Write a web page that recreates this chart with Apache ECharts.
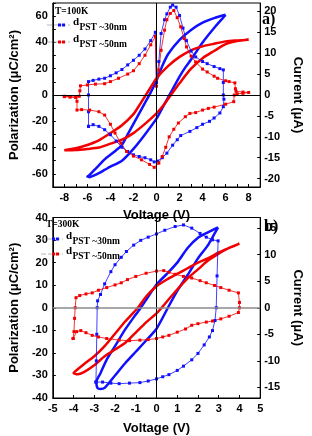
<!DOCTYPE html>
<html><head><meta charset="utf-8">
<script src="https://cdn.jsdelivr.net/npm/echarts@6/dist/echarts.min.js"></script>
<style>html,body{margin:0;padding:0;background:#fff}#c{width:312px;height:436px}</style>
</head><body><div id="c"></div>
<script>
// ---------- Panel a) T=100K ----------
const X_LABELS_A = [-8,-6,-4,-2,0,2,4,6,8];
const X_TICKS_A = [-9,-8,-7,-6,-5,-4,-3,-2,-1,0,1,2,3,4,5,6,7,8,9];
const P_LABELS_A = [-60,-40,-20,0,20,40,60];
const I_LABELS_A = [-20,-15,-10,-5,0,5,10,15,20];

// P loop, 30 nm (upper branch then lower branch)
const V_P30_A = [6,5,4,3,2,1,0.5,0,-0.5,-1,-1.5,-2,-2.5,-3,-3.5,-4,-4.5,-5,-5.5,-5.9,-6,
                 -5.8,-5.5,-5,-4.5,-4,-3,-2,-1,0,0.5,1,1.5,2,2.5,3,4,5,5.8,6];
const P30_A   = [61,58.5,55,49.5,42,31,22,11,2,-6,-14,-22,-30,-38,-42,-45.5,-49,-53.5,-58,-61.5,-62,
                 -62.5,-61.5,-59.5,-57,-54.5,-50,-41,-30,-18,-10,-2,6,14,21,27,40,51,59,61];
// P loop, 50 nm
const V_P50_A = [8,7,6,5,4,3,2,1,0,-0.5,-1,-1.5,-2,-3,-4,-5,-6,-7,-8,
                 -7,-6,-5,-4,-3,-2,-1,0,0.5,1,1.5,2,3,4,5,6,7,8];
const P50_A   = [42,41.5,40.8,39,37,34,29,22,12.8,6,-1,-8,-14.5,-23,-29,-34.5,-38,-40.5,-42,
                 -41.8,-41,-40,-37,-34,-29,-22,-14,-9,-3,3,9,20,28,33.5,38.7,41,42];
// Current, 30 nm
const V_I30_A = [-5.9,-5.9,-5.9,-5.9,-5.5,-5,-4.5,-4,-3.5,-3,-2.5,-2,-1.5,-1,-0.5,-0.1,0,0.2,0.4,0.7,
                 0.9,1.2,1.4,1.7,2,2.3,2.6,3,3.4,4,4.4,5,5.5,5.8,5.8,5.8,5.85,5.8,5.5,5,
                 4.6,4,3.5,2.9,2.1,1.8,1.4,0.9,0.5,0.1,-0.2,-0.5,-1,-1.5,-2,-2.5,-3,-3.5,-4,-4.5,
                 -5,-5.5,-5.9];
const I30_A   = [-7.5,-4,0,3.2,3.5,3.8,4.0,4.6,5.3,6.1,7.2,8.3,9.5,11,13,15,3,8,14.7,18,
                 19.4,21,21.5,21,19,16,13,10.5,9.1,8,7.5,6.8,6.3,6,3,0,-1,-2.8,-4.3,-5.5,
                 -6.3,-7,-7.8,-8.7,-9.7,-10.7,-12,-13.9,-15,-15.8,-16,-15.5,-15,-14.7,-14.3,-13.5,-12.5,-11,-9.5,-8.3,
                 -7.5,-7.1,-7.5];
// Current, 50 nm
const V_I50_A = [-8,-7.5,-7,-6.7,-6.65,-6.6,-6,-5.3,-4.5,-4,-3.3,-2.5,-2,-1.5,-1,-0.5,-0.1,0,0.2,0.4,
                 0.7,0.9,1.2,1.5,1.8,2.1,2.4,2.6,3,3.4,4,4.4,5,5.3,6,6.3,6.8,6.85,6.9,7.5,
                 8,7.5,7,6.75,6.7,6,5,4.5,4,3.4,2.9,2.5,1.9,1.5,1.1,0.8,0.5,0.2,-0.2,-0.6,
                 -1.3,-2,-2.6,-3.1,-3.6,-4,-4.5,-5,-5.8,-6.5,-6.9,-6.9,-7,-7.5,-8];
const I50_A   = [-0.3,-0.4,-0.5,-0.3,1,2.2,2.4,2.6,2.7,3.2,4,5,5.8,7.5,9.5,12,14,2.1,6,10.7,
                 15.5,18,19.5,20.2,18.5,16.3,13.5,11.5,9.3,7.9,6.2,5.5,4.5,4,3.4,3.2,2.9,1.5,0.9,0.7,
                 0.6,0.4,0.3,0,-1.6,-2.2,-2.9,-3.2,-3.6,-4.2,-4.4,-5.2,-6.7,-8.2,-10,-12.5,-14.7,-16.3,-17.3,-16.6,
                 -15.5,-14.6,-13.5,-11.5,-9.1,-7,-4.8,-4,-3.6,-3.5,-3.6,-1.5,-0.6,-0.5,-0.4];

// ---------- Panel b) T=300K ----------
const X_LABELS_B = [-5,-4,-3,-2,-1,0,1,2,3,4,5];
const P_LABELS_B = [-40,-30,-20,-10,0,10,20,30,40];
const I_LABELS_B = [-15,-10,-5,0,5,10,15];

const V_P30_B = [2.97,2.5,2,1.5,1,0.5,0,-0.5,-0.76,-1,-1.5,-2,-2.4,-2.7,-2.9,-2.85,-2.7,
                 -2.5,-2,-1.5,-1,-0.5,0,0.55,1,1.5,2,2.5,2.84,2.97];
const P30_B   = [35.6,33.5,31,26.5,20,15,10.3,3.5,0,-3,-9.5,-17,-23,-29,-33,-35.5,-36,
                 -35.5,-30,-24.5,-19.5,-14.5,-9.3,0,7.5,14.5,21.9,28,33.5,35.6];
const V_P50_B = [4,3.5,3,2.5,2,1.5,1,0.5,0,-0.5,-0.9,-1.5,-2,-2.5,-3,-3.5,-3.9,-4,
                 -3.8,-3.5,-3,-2.5,-2,-1.5,-1,-0.5,0,0.25,0.8,1.5,2,2.5,3,3.5,4];
const P50_B   = [28.4,26.5,24.5,22,20,17.5,15,12.5,9.5,5,0,-6,-11.5,-17,-21.5,-25,-28,-28.9,
                 -29.5,-28.5,-25.5,-21.5,-18.5,-15.5,-11,-6.5,-2.5,0,6,13,17,21,24,26.5,28.4];
const V_I30_B = [-2.92,-2.9,-2.88,-2.86,-2.84,-2.7,-2.5,-2.2,-2,-1.7,-1.45,-1.1,-0.76,-0.4,0,0.4,0.9,1.3,1.7,2.1,
                 2.4,2.7,2.97,2.92,2.88,2.82,2.7,2.55,2.3,2,1.7,1.3,1,0.6,0.3,0,-0.4,-0.8,-1.3,-1.8,
                 -2.2,-2.6,-2.92];
const I30_B   = [-14,-10,-5,0,1.3,2.5,4.5,6.8,8.1,9.5,10.6,11.8,12.7,13.3,13.9,14.6,15.3,15.6,15,14,
                 13.3,12.8,12.6,6,0,-2.4,-4.3,-5.5,-7,-8.6,-9.8,-11,-11.8,-12.6,-13,-13.4,-13.8,-14.1,-14.2,-14.3,
                 -14.2,-14,-14];
const V_I50_B = [-4.02,-3.98,-3.95,-3.92,-3.88,-3.7,-3.4,-3.1,-2.8,-2.4,-2,-1.7,-1.4,-1,-0.5,0,0.35,0.6,0.9,1.3,
                 1.7,2.1,2.4,2.8,3.1,3.5,3.95,4,4,3.95,3.5,3.1,2.7,2.4,2,1.7,1.4,1,0.6,0.3,
                 0,-0.4,-0.8,-1.3,-1.8,-2.4,-2.8,-3.1,-3.4,-3.65,-3.85,-4.02];
const I50_B   = [-5.8,-4.5,-2,0,1.9,2.3,2.6,2.8,3.3,3.8,4.3,4.7,5.3,5.9,6.5,6.9,7,6.7,6.3,5.9,
                 5.6,5.1,4.7,4.2,3.8,3.3,2.8,1,0,-0.9,-1.6,-2.1,-2.5,-2.7,-3,-3.3,-4,-4.6,-5.2,-5.5,
                 -5.8,-6,-6.1,-6.2,-6.1,-5.8,-5.5,-5.2,-4.7,-4.3,-4.5,-5.8];

const BLUE = '#1010ff', RED = '#f20000';
const SANS = '"Liberation Sans", Arial, sans-serif';
const SERIF = '"Liberation Serif", "Times New Roman", serif';
function pts(v, y) { return v.map((x, i) => [x, y[i]]); }

const lab = { fontFamily: SANS, fontWeight: 'bold', fontSize: 11, color: '#000' };
const nameStyle = { fontFamily: SANS, fontWeight: 'bold', fontSize: 13, color: '#000' };
const tick = { show: true, inside: true, length: 3, lineStyle: { color: '#000', width: 1 } };
const aline = { show: true, onZero: false, lineStyle: { color: '#000', width: 1 } };

function loop(name, xi, yi, v, p, color) {
  return { name, type: 'line', xAxisIndex: xi, yAxisIndex: yi, data: pts(v, p), smooth: 0.25,
    symbol: 'none', lineStyle: { color, width: 2.5 }, z: 3, animation: false };
}
function cur(name, xi, yi, v, p, color) {
  return { name, type: 'line', xAxisIndex: xi, yAxisIndex: yi, data: pts(v, p), smooth: false,
    symbol: 'rect', symbolSize: 3, showAllSymbol: true, itemStyle: { color },
    lineStyle: { color, width: 0.8 }, z: 4, animation: false };
}

function legendRow(x1, x2, y, color, label) {
  return [
    { type: 'line', shape: { x1: x1, y1: y, x2: x2, y2: y }, style: { stroke: '#b8b8b8', lineWidth: 1.2, lineDash: [5, 2] }, z: 10 },
    { type: 'rect', shape: { x: x1 + 11, y: y - 1.5, width: 3, height: 3 }, style: { fill: color }, z: 11 },
    { type: 'rect', shape: { x: x1 + 15, y: y - 1.5, width: 3, height: 3 }, style: { fill: color }, z: 11 },
    { type: 'text', x: x2 + 3, y: y - 8, style: { text: 'd', font: 'bold 11px ' + SERIF, fill: '#000' }, z: 11 },
    { type: 'text', x: x2 + 9.5, y: y - 2, style: { text: label, font: 'bold 9.5px ' + SERIF, fill: '#000' }, z: 11 }
  ];
}

const chart = echarts.init(document.getElementById('c'), null, { renderer: 'canvas' });
chart.setOption({
  animation: false,
  backgroundColor: '#fff',
  grid: [
    { left: 41, top: 3, width: 242, height: 184, show: true, borderColor: '#000', borderWidth: 1 },
    { left: 37.5, top: 217.5, width: 241.5, height: 185, show: true, borderColor: '#000', borderWidth: 1 }
  ],
  xAxis: [
    { gridIndex: 0, type: 'value', min: -9, max: 9, axisLine: aline,
      axisTick: Object.assign({}, tick, { customValues: X_TICKS_A }),
      axisLabel: Object.assign({}, lab, { margin: 5, customValues: X_LABELS_A }),
      splitLine: { show: false },
      name: 'Voltage (V)', nameLocation: 'middle', nameGap: 22, nameTextStyle: nameStyle },
    { gridIndex: 1, type: 'value', min: -5, max: 5, interval: 1, axisLine: aline,
      axisTick: Object.assign({}, tick, { customValues: X_LABELS_B }),
      axisLabel: Object.assign({}, lab, { margin: 5, customValues: X_LABELS_B }),
      splitLine: { show: false },
      name: 'Voltage (V)', nameLocation: 'middle', nameGap: 24, nameTextStyle: nameStyle }
  ],
  yAxis: [
    { gridIndex: 0, type: 'value', min: -70, max: 70, axisLine: aline,
      axisTick: Object.assign({}, tick, { customValues: [-70,-60,-50,-40,-30,-20,-10,0,10,20,30,40,50,60,70] }),
      axisLabel: Object.assign({}, lab, { margin: 5, customValues: P_LABELS_A }),
      splitLine: { show: false },
      name: 'Polarization (\u03bcC/cm\u00b2)', nameLocation: 'middle', nameGap: 25, nameTextStyle: nameStyle },
    { gridIndex: 0, type: 'value', position: 'right', min: -22, max: 22, axisLine: aline,
      axisTick: Object.assign({}, tick, { customValues: I_LABELS_A }),
      axisLabel: Object.assign({}, lab, { margin: 4, customValues: I_LABELS_A }),
      splitLine: { show: false },
      name: 'Current (\u03bcA)', nameLocation: 'middle', nameRotate: -90, nameGap: 22, nameTextStyle: nameStyle },
    { gridIndex: 1, type: 'value', min: -40, max: 40, interval: 10, axisLine: aline,
      axisTick: Object.assign({}, tick, { customValues: P_LABELS_B }),
      axisLabel: Object.assign({}, lab, { margin: 5, customValues: P_LABELS_B }),
      splitLine: { show: false },
      name: 'Polarization (\u03bcC/cm\u00b2)', nameLocation: 'middle', nameGap: 22, nameTextStyle: nameStyle },
    { gridIndex: 1, type: 'value', position: 'right', min: -17, max: 17, axisLine: aline,
      axisTick: Object.assign({}, tick, { customValues: I_LABELS_B }),
      axisLabel: Object.assign({}, lab, { margin: 4, customValues: I_LABELS_B }),
      splitLine: { show: false },
      name: 'Current (\u03bcA)', nameLocation: 'middle', nameRotate: -90, nameGap: 25, nameTextStyle: nameStyle }
  ],
  series: [
    Object.assign(loop('P 30nm 100K', 0, 0, V_P30_A, P30_A, BLUE), {
      markLine: { silent: true, symbol: 'none', label: { show: false }, animation: false,
        lineStyle: { color: '#000', width: 1, type: 'solid' }, data: [{ xAxis: 0 }, { yAxis: 0 }] } }),
    loop('P 50nm 100K', 0, 0, V_P50_A, P50_A, RED),
    cur('I 30nm 100K', 0, 1, V_I30_A, I30_A, BLUE),
    cur('I 50nm 100K', 0, 1, V_I50_A, I50_A, RED),
    Object.assign(loop('P 30nm 300K', 1, 2, V_P30_B, P30_B, BLUE), {
      markLine: { silent: true, symbol: 'none', label: { show: false }, animation: false,
        data: [{ xAxis: 0, lineStyle: { color: '#000', width: 1, type: 'solid' } },
               { yAxis: 0, lineStyle: { color: '#8a8a8a', width: 1.6, type: 'solid' } }] } }),
    loop('P 50nm 300K', 1, 2, V_P50_B, P50_B, RED),
    cur('I 30nm 300K', 1, 3, V_I30_B, I30_B, BLUE),
    cur('I 50nm 300K', 1, 3, V_I50_B, I50_B, RED)
  ],
  graphic: [
    { type: 'text', x: 55, y: 7, style: { text: 'T=100K', font: 'bold 9.5px ' + SERIF, fill: '#000' }, z: 11 },
    ...legendRow(47, 70, 25, BLUE, 'PST ~30nm'),
    ...legendRow(47, 70, 42, RED, 'PST ~50nm'),
    { type: 'text', x: 262, y: 12, style: { text: 'a)', font: 'bold 16px ' + SERIF, fill: '#000' }, z: 11 },
    { type: 'text', x: 46, y: 220, style: { text: 'T=300K', font: 'bold 9.5px ' + SERIF, fill: '#000' }, z: 11 },
    ...legendRow(41, 63, 239, BLUE, 'PST ~30nm'),
    ...legendRow(41, 63, 254, RED, 'PST ~50nm'),
    { type: 'text', x: 264, y: 219, style: { text: 'b)', font: 'bold 16px ' + SERIF, fill: '#000' }, z: 11 }
  ]
});
</script>
</body></html>
